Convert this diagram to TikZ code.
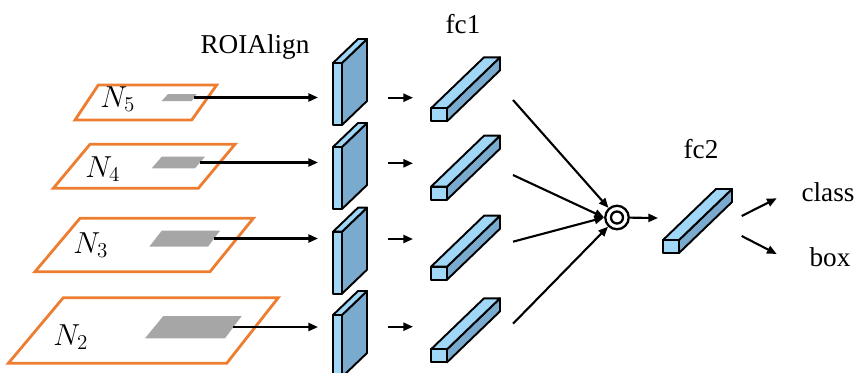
\documentclass[tikz,border=0pt]{standalone}
\usepackage{fontspec}
\setmainfont{Liberation Serif}
\usepackage{xcolor}
\usetikzlibrary{arrows.meta,positioning,calc}

\definecolor{maporange}{RGB}{237,125,49}
\definecolor{roigray}{RGB}{166,166,166}
\definecolor{facelight}{RGB}{160,214,246}
\definecolor{facedark}{RGB}{122,170,206}

% ROIAlign output slab, front face top-left at (#1,#2)
\newcommand{\roislab}[2]{%
  \draw[face, fill=facedark] (#1+9,#2) -- ++(25,-24) -- ++(0,62) -- ++(-25,24) -- cycle;
  \draw[face, fill=facelight] (#1,#2) -- ++(25,-24) -- ++(9,0) -- ++(-25,24) -- cycle;
  \draw[face, fill=facelight] (#1,#2) rectangle ++(9,62);
}
% fully connected bar, front face top-left at (#1,#2)
\newcommand{\fcbar}[2]{%
  \draw[face, fill=facedark] (#1+16,#2) -- ++(53,-51) -- ++(0,13) -- ++(-53,51) -- cycle;
  \draw[face, fill=facelight] (#1,#2) -- ++(53,-51) -- ++(16,0) -- ++(-53,51) -- cycle;
  \draw[face, fill=facelight] (#1,#2) rectangle ++(16,13);
}

\begin{document}
\begin{tikzpicture}[
    x=0.02cm, y=-0.02cm,
    fmap/.style={draw=maporange, line width=1.6pt, line join=miter},
    roi/.style={fill=roigray},
    face/.style={draw=black, line width=1.1pt, line join=round},
    label/.style={font=\fontsize{15.5}{18}\selectfont, inner sep=0pt, anchor=base},
    level/.style={font=\fontsize{16.5}{18}\selectfont, inner sep=0pt, anchor=base west},
    arrow/.style={-{Triangle[length=5.5pt,width=4.6pt]}, line width=1.2pt}
]
\useasboundingbox (0,0) rectangle (858,372);

% Feature maps
\draw[fmap] (75,120) -- (191.7,120) -- (216.7,85) -- (98.3,85) -- cycle;
\draw[fmap] (53.3,188.3) -- (198.3,188.3) -- (235,144.3) -- (90,144.3) -- cycle;
\draw[fmap] (35,271.7) -- (210,271.7) -- (253.3,218.3) -- (80,218.3) -- cycle;
\draw[fmap] (8.3,363.3) -- (226.7,363.3) -- (278.3,297.7) -- (63.3,297.7) -- cycle;

\node[level] (n5) at (100,107) {$N_5$};
\node[level] (n4) at (85,177) {$N_4$};
\node[level] (n3) at (73,253) {$N_3$};
\node[level] (n2) at (53,345) {$N_2$};

% RoIs on each level
\fill[roi] (161.7,101) -- (191.7,101) -- (196.7,94) -- (168,94) -- cycle;
\fill[roi] (151.7,168.3) -- (195,168.3) -- (205,156.7) -- (161.7,156.7) -- cycle;
\fill[roi] (149.3,246.7) -- (208,246.7) -- (220,230.7) -- (161.7,230.7) -- cycle;
\fill[roi] (145,338.3) -- (225,338.3) -- (241.7,316) -- (163.3,316) -- cycle;

\coordinate (r5) at (194,97.5);
\coordinate (r4) at (200,162.5);
\coordinate (r3) at (214,238.5);
\coordinate (r2) at (233,327);

% ROIAlign slabs
\roislab{333}{63}
\roislab{333}{147}
\roislab{333}{231.7}
\roislab{333}{315}

\coordinate (a5) at (318,97.5);
\coordinate (a4) at (318,162.5);
\coordinate (a3) at (318,238.5);
\coordinate (a2) at (318,327);

% fc1 bars
\fcbar{431}{108.3}
\fcbar{431}{186.7}
\fcbar{431}{266.7}
\fcbar{431}{349.3}

\coordinate (s5) at (388,97.7);   \coordinate (t5) at (413,97.7);
\coordinate (s4) at (388,163.3);  \coordinate (t4) at (413,163.3);
\coordinate (s3) at (388,239);    \coordinate (t3) at (413,239);
\coordinate (s2) at (388,326.7);  \coordinate (t2) at (413,326.7);

\coordinate (f5) at (513,100);
\coordinate (f4) at (513,175);
\coordinate (f3) at (513,241.7);
\coordinate (f2) at (513,323.7);

% Fusion and fc2
\node[circle, draw, line width=1.3pt, minimum size=0.47cm, inner sep=0pt] (cat) at (617,217.5) {};
\node[circle, draw, line width=1.3pt, minimum size=0.24cm, inner sep=0pt] (catin) at (cat) {};
\fcbar{663}{240}
\coordinate (fc2in) at (658,218);

\coordinate (o1) at (741.7,216);  \coordinate (cls) at (776.7,198.3);
\coordinate (o2) at (741.7,236);  \coordinate (bx) at (776.7,254);

% Labels
\node[label] (lroi) at (255,53) {ROIAlign};
\node[label] (lfc1) at (463,33) {fc1};
\node[label] (lfc2) at (701,158) {fc2};
\node[label] (lcls) at (828,201.7) {class};
\node[label] (lbox) at (830,266.7) {box};

% Arrows
\foreach \i in {5,4,3,2} {
  \draw[arrow] (r\i) -- (a\i);
  \draw[arrow] (s\i) -- (t\i);
}
\draw[arrow] (f5) -- (cat);
\draw[arrow] (f4) -- (cat.west);
\draw[arrow] (f3) -- (cat.west);
\draw[arrow] (f2) -- (cat);
\draw[arrow] (cat) -- (fc2in);
\draw[arrow] (o1) -- (cls);
\draw[arrow] (o2) -- (bx);
\end{tikzpicture}
\end{document}
